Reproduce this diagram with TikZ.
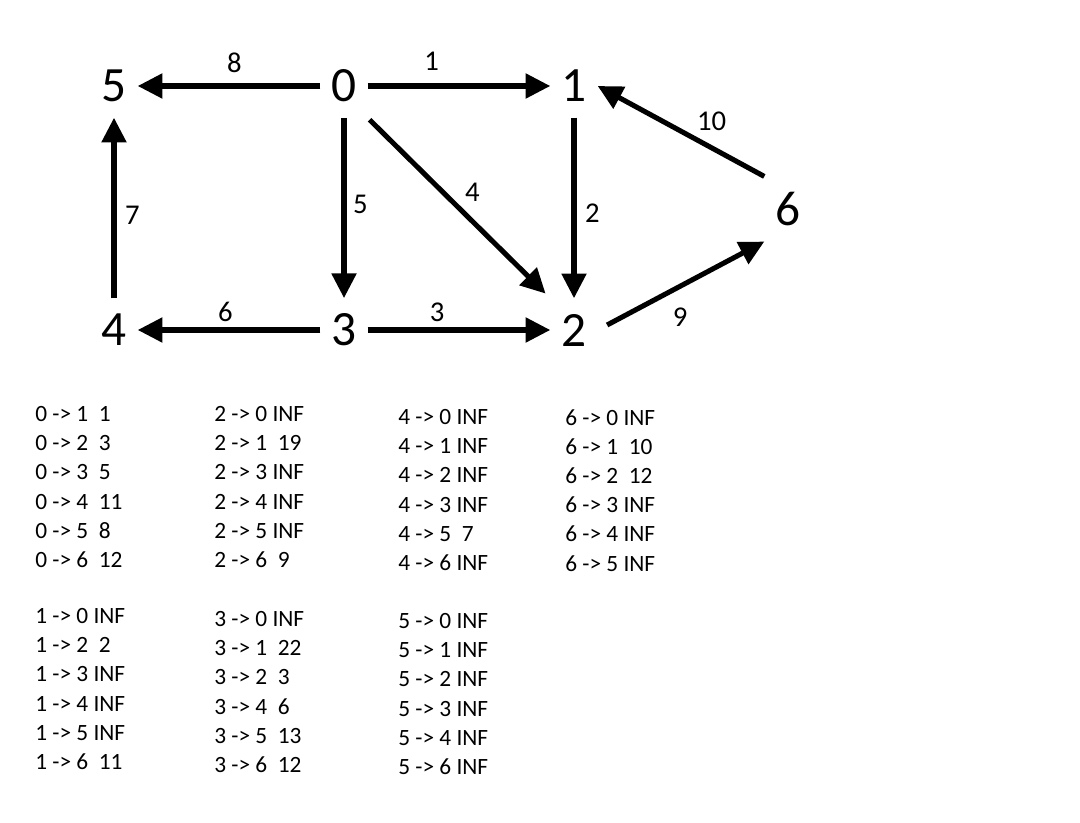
\documentclass[tikz,border=0pt]{standalone}
\usepackage{fontspec}
\setmainfont{Carlito}
\usetikzlibrary{arrows.meta,positioning}

\tikzset{
    vert/.style={font=\fontsize{37}{40}\selectfont, inner xsep=8.2pt, inner ysep=11.6pt},
    arr/.style={line width=3.8pt, -{Triangle[length=18.5pt,width=18pt]}},
    wt/.style={font=\fontsize{21.5}{24}\selectfont, inner sep=2pt},
    dist/.style={font=\fontsize{17.5}{21.9}\selectfont, align=left, anchor=north west, inner sep=0pt}
}

\begin{document}
\begin{tikzpicture}[x=0.75pt,y=-0.75pt]
                \useasboundingbox (0,0) rectangle (1080,823);

                % vertices
                \node[vert] (n5) at (114,86) {5};
                \node[vert] (n0) at (344,86) {0};
                \node[vert] (n1) at (574,86) {1};
                \node[vert] (n4) at (114,330) {4};
                \node[vert] (n3) at (344,330) {3};
                \node[vert] (n2) at (574,330) {2};
                \node[vert] (n6) at (788,209) {6};

                % weighted edges
                \draw[arr] (n0) -- node[wt,pos=0.47,above=6pt] {8} (n5);
                \draw[arr] (n0) -- node[wt,pos=0.35,above=7.5pt] {1} (n1);
                \draw[arr] (n0) -- node[wt,pos=0.48,right=3pt] {5} (n3);
                \draw[arr,shorten <=2pt,shorten >=5pt] (n0.south east) -- node[wt,pos=0.5,above right=1pt] {4} (n2.north west);
                \draw[arr] (n1) -- node[wt,pos=0.53,right=4.5pt] {2} (n2);
                \draw[arr] (n6.north west) -- node[wt,pos=0.44,above right=1pt] {10} (n1.east);
                \draw[arr] (n4) -- node[wt,pos=0.46,right=4.5pt] {7} (n5);
                \draw[arr] (n3) -- node[wt,pos=0.52,above=2pt] {6} (n4);
                \draw[arr] (n3) -- node[wt,pos=0.38,above=2pt] {3} (n2);
                \draw[arr,shorten <=8pt] (n2.east) -- node[wt,pos=0.38,below right=7pt] {9} (n6.south west);

                % shortest distances
                \node[dist] (d0) at (35,406) {0 -> 1~~1\\0 -> 2~~3\\0 -> 3~~5\\0 -> 4~~11\\0 -> 5~~8\\0 -> 6~~12};
                \node[dist] (d1) at (35,608) {1 -> 0 INF\\1 -> 2~~2\\1 -> 3 INF\\1 -> 4 INF\\1 -> 5 INF\\1 -> 6~~11};
                \node[dist] (d2) at (214,406) {2 -> 0 INF\\2 -> 1~~19\\2 -> 3 INF\\2 -> 4 INF\\2 -> 5 INF\\2 -> 6~~9};
                \node[dist] (d3) at (214,611) {3 -> 0 INF\\3 -> 1~~22\\3 -> 2~~3\\3 -> 4~~6\\3 -> 5~~13\\3 -> 6~~12};
                \node[dist] (d4) at (398,409) {4 -> 0 INF\\4 -> 1 INF\\4 -> 2 INF\\4 -> 3 INF\\4 -> 5~~7\\4 -> 6 INF};
                \node[dist] (d5) at (398,613) {5 -> 0 INF\\5 -> 1 INF\\5 -> 2 INF\\5 -> 3 INF\\5 -> 4 INF\\5 -> 6 INF};
                \node[dist] (d6) at (565,409) {6 -> 0 INF\\6 -> 1~~10\\6 -> 2~~12\\6 -> 3 INF\\6 -> 4 INF\\6 -> 5 INF};
            \end{tikzpicture}
\end{document}
